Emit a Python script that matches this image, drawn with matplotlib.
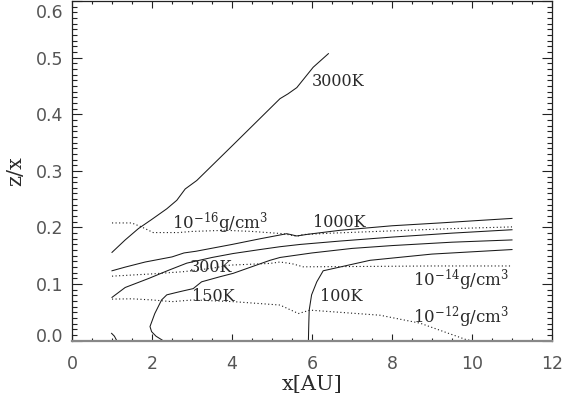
import matplotlib
matplotlib.use("Agg")
import matplotlib.pyplot as plt
import matplotlib.transforms as mtrans
from matplotlib.ticker import MultipleLocator

plt.rcParams['mathtext.fontset'] = 'dejavuserif'

# temperature contours (solid)
t3000_x = [1.0, 1.33, 1.66, 1.99, 2.37, 2.62, 2.83, 3.12, 4.03, 5.2, 5.4, 5.62, 6.03, 6.41]
t3000_y = [0.156, 0.178, 0.198, 0.214, 0.233, 0.248, 0.268, 0.283, 0.346, 0.4275, 0.436, 0.447, 0.483, 0.507]

t1000_x = [1.0, 1.33, 1.83, 2.5, 2.8, 3.1, 4.0, 4.7, 5.37, 5.62, 5.9, 6.7, 8.0, 9.2, 10.2, 11.0]
t1000_y = [0.1235, 0.130, 0.139, 0.148, 0.155, 0.158, 0.170, 0.180, 0.189, 0.185, 0.188, 0.195, 0.203, 0.208, 0.2125, 0.216]

t300_x = [1.0, 1.33, 1.92, 2.4, 2.87, 3.5, 4.03, 4.7, 5.2, 5.7, 6.7, 8.0, 9.5, 11.0]
t300_y = [0.0765, 0.094, 0.110, 0.124, 0.137, 0.147, 0.154, 0.161, 0.166, 0.170, 0.176, 0.183, 0.190, 0.196]

t150_x = [2.28, 2.1, 1.99, 1.95, 2.07, 2.24, 2.37, 2.6, 2.78, 3.03, 3.24, 3.7, 4.03, 4.95, 5.2, 6.0, 7.0, 8.0, 9.5, 11.0]
t150_y = [0.0, 0.008, 0.016, 0.025, 0.048, 0.072, 0.081, 0.085, 0.088, 0.092, 0.104, 0.113, 0.119, 0.142, 0.147, 0.155, 0.163, 0.168, 0.174, 0.178]

t100_x = [5.91, 5.92, 5.93, 5.99, 6.12, 6.28, 7.45, 9.0, 11.0]
t100_y = [0.0, 0.03, 0.054, 0.081, 0.104, 0.1235, 0.142, 0.153, 0.161]

tsmall_x = [0.99, 1.06, 1.12]
tsmall_y = [0.013, 0.008, 0.0]

# density contours (dotted)
d16_x = [1.0, 1.49, 1.74, 2.03, 2.66, 3.0, 3.83, 4.5, 5.28, 5.62, 5.78, 6.5, 8.0, 9.5, 11.0]
d16_y = [0.208, 0.208, 0.201, 0.191, 0.191, 0.193, 0.195, 0.193, 0.189, 0.1845, 0.1875, 0.190, 0.194, 0.198, 0.201]

d14_x = [1.0, 1.5, 2.0, 2.8, 3.5, 3.95, 4.95, 5.2, 5.5, 5.78, 7.0, 9.0, 11.0]
d14_y = [0.114, 0.116, 0.118, 0.122, 0.128, 0.1335, 0.1365, 0.139, 0.136, 0.1305, 0.131, 0.132, 0.132]

d12_x = [1.0, 1.5, 2.0, 2.5, 3.03, 4.03, 5.2, 5.66, 5.95, 7.7, 8.7, 9.83, 10.0]
d12_y = [0.0735, 0.074, 0.072, 0.069, 0.072, 0.069, 0.063, 0.048, 0.054, 0.045, 0.031, 0.0025, 0.0]

# contour labels: (text, x, y, size)
labels = [
    ("3000K", 5.99, 0.458, 11.5),
    ("1000K", 6.03, 0.2085, 11.5),
    ("300K", 2.95, 0.129, 11.5),
    ("150K", 2.99, 0.0776, 11.5),
    ("100K", 6.2, 0.0776, 11.5),
    (r"10$^{-16}$g/cm$^3$", 2.49, 0.207, 12),
    (r"10$^{-14}$g/cm$^3$", 8.53, 0.107, 12),
    (r"10$^{-12}$g/cm$^3$", 8.53, 0.041, 12),
]

fig = plt.figure(figsize=(5.62, 3.99), dpi=100)
ax = fig.add_axes([0.1281, 0.1461, 0.8541, 0.8514])

lc = '#1a1a1a'
for xs, ys in [(t3000_x, t3000_y), (t1000_x, t1000_y), (t300_x, t300_y),
               (t150_x, t150_y), (t100_x, t100_y), (tsmall_x, tsmall_y)]:
    ax.plot(xs, ys, color=lc, lw=0.75)
for xs, ys in [(d16_x, d16_y), (d14_x, d14_y), (d12_x, d12_y)]:
    ax.plot(xs, ys, color=lc, lw=0.8, linestyle=(0, (1, 2.2)))

for txt, x, y, fs in labels:
    ax.text(x, y, txt, fontsize=fs, family='DejaVu Serif', color='#2a2a2a',
            ha='left', va='center')

ax.set_xlim(0, 12)
ax.set_ylim(0, 0.6)
ax.xaxis.set_major_locator(MultipleLocator(2))
ax.xaxis.set_minor_locator(MultipleLocator(0.5))
ax.yaxis.set_major_locator(MultipleLocator(0.1))
ax.yaxis.set_minor_locator(MultipleLocator(0.01))
ax.yaxis.set_major_formatter(plt.FormatStrFormatter('%.1f'))

ax.tick_params(axis='both', which='both', direction='in', top=True, right=True,
               color='#222222', width=0.8, labelcolor='#555555', labelsize=12.5)
ax.tick_params(axis='x', which='major', length=5, pad=10)
ax.tick_params(axis='x', which='minor', length=2.5)
ax.tick_params(axis='y', which='major', length=7, pad=6)
ax.tick_params(axis='y', which='minor', length=3.5)

for s in ['left', 'right', 'top']:
    ax.spines[s].set_color('#222222')
    ax.spines[s].set_linewidth(0.9)
ax.spines['bottom'].set_color('#888888')
ax.spines['bottom'].set_linewidth(1.6)

ax.set_xlabel('x[AU]', family='DejaVu Serif', fontsize=15, color='#2a2a2a', labelpad=2)
ax.set_ylabel('z/x', family='DejaVu Serif', fontsize=15, color='#2a2a2a', labelpad=8)

# nudge the end labels of the y axis inwards, as in the original
fig.canvas.draw()
for tk in ax.yaxis.get_major_ticks():
    v = tk.get_loc()
    if abs(v - 0.6) < 1e-6:
        tk.label1.set_transform(tk.label1.get_transform() +
                                mtrans.ScaledTranslation(0, -7 / 72, fig.dpi_scale_trans))
    elif abs(v) < 1e-6:
        tk.label1.set_transform(tk.label1.get_transform() +
                                mtrans.ScaledTranslation(0, 4 / 72, fig.dpi_scale_trans))

fig.savefig('out.png', dpi=100)
